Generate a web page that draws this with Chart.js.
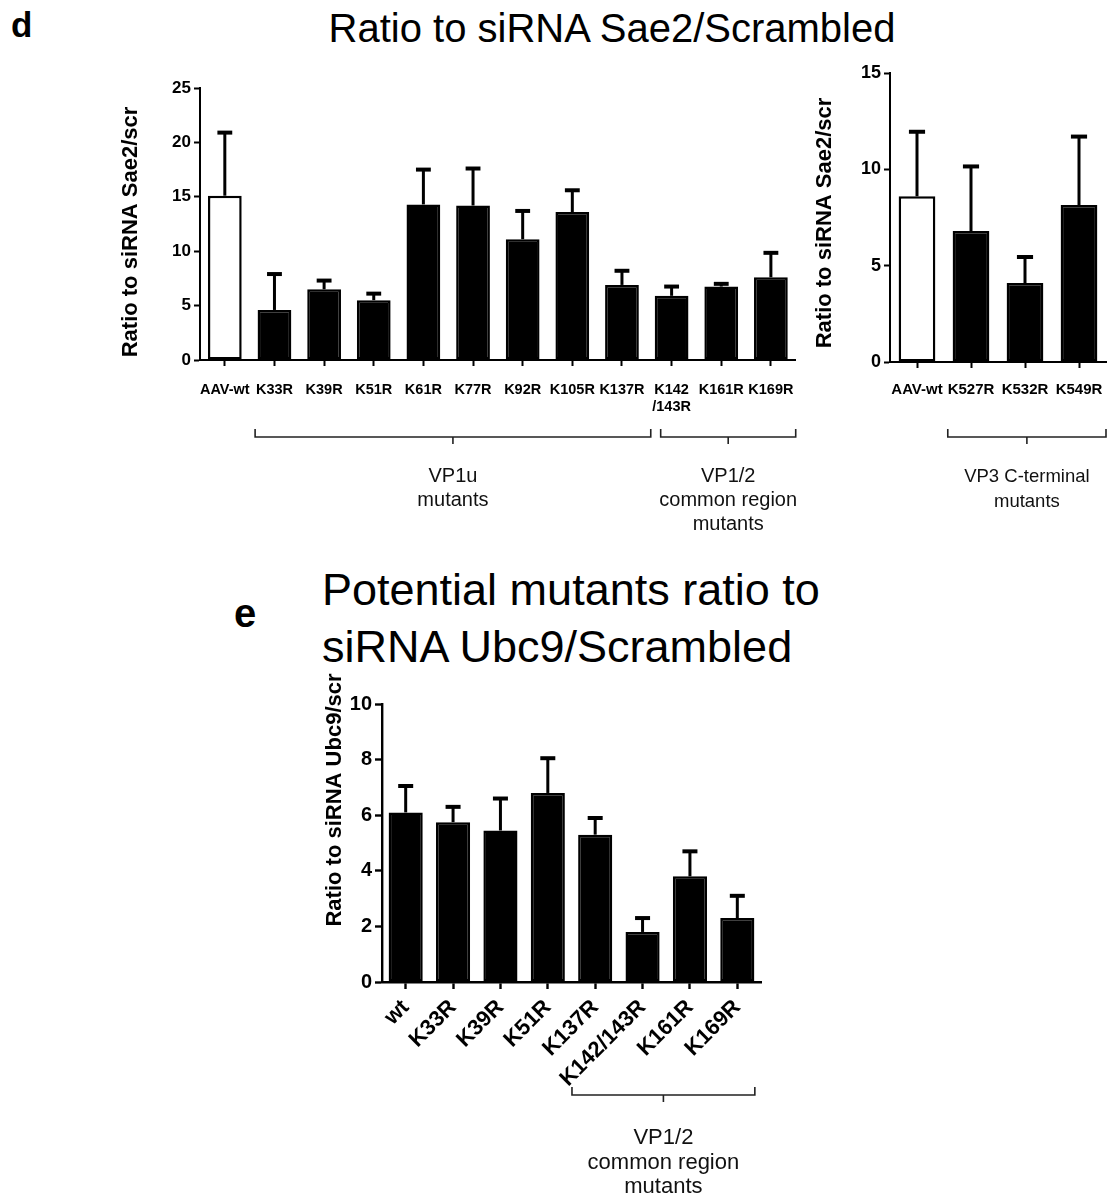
<!DOCTYPE html>
<html>
<head>
<meta charset="utf-8">
<title>Ratio to siRNA</title>
<script src="https://cdn.jsdelivr.net/npm/chart.js@4.4.1/dist/chart.umd.min.js"></script>
<style>
    body { margin: 0; background: #ffffff; }
    #page { position: relative; width: 1117px; height: 1200px; overflow: hidden; font-family: "Liberation Sans", Arial, sans-serif; color: #000; }
    .txt { position: absolute; white-space: nowrap; }
    .box { position: absolute; }
</style>
</head>
<body>
<div id="page">
    <div class="txt" style="left:11px; top:7px; font-size:35px; line-height:35px; font-weight:bold;">d</div>
    <div class="txt" style="left:612px; top:8px; font-size:40px; line-height:40px; transform:translateX(-50%);">Ratio to siRNA Sae2/Scrambled</div>
    <div class="txt" style="left:234px; top:593px; font-size:40px; line-height:40px; font-weight:bold;">e</div>
    <div class="txt" style="left:322px; top:561px; font-size:45px; line-height:57px;">Potential mutants ratio to<br>siRNA Ubc9/Scrambled</div>

    <div class="box" style="left:100px; top:60px; width:710px; height:480px;"><canvas id="chart-sae2-vp1"></canvas></div>
    <div class="box" style="left:810px; top:50px; width:307px; height:480px;"><canvas id="chart-sae2-vp3"></canvas></div>
    <div class="box" style="left:300px; top:660px; width:480px; height:540px;"><canvas id="chart-ubc9"></canvas></div>
</div>

<script>
// Panel d, left: VP1u and VP1/2 mutants
const sae2Labels = ["AAV-wt", "K33R", "K39R", "K51R", "K61R", "K77R", "K92R", "K105R", "K137R", ["K142", "/143R"], "K161R", "K169R"];
const sae2Means = [15.1, 4.6, 6.5, 5.5, 14.3, 14.2, 11.1, 13.6, 6.9, 5.9, 6.75, 7.6];
const sae2Upper = [20.9, 7.9, 7.3, 6.1, 17.5, 17.6, 13.7, 15.6, 8.2, 6.75, 7.0, 9.85];
const sae2Ticks = [0, 5, 10, 15, 20, 25];
const sae2Groups = [
    { first: 1, last: 8, lines: ["VP1u", "mutants"] },
    { first: 9, last: 11, lines: ["VP1/2", "common region", "mutants"] },
];

// Panel d, right: VP3 C-terminal mutants
const vp3Labels = ["AAV-wt", "K527R", "K532R", "K549R"];
const vp3Means = [8.6, 6.8, 4.1, 8.15];
const vp3Upper = [11.95, 10.15, 5.45, 11.7];
const vp3Ticks = [0, 5, 10, 15];
const vp3Groups = [
    { first: 1, last: 3, lines: ["VP3 C-terminal", "mutants"] },
];

// Panel e: Ubc9 knockdown
const ubc9Labels = ["wt", "K33R", "K39R", "K51R", "K137R", "K142/143R", "K161R", "K169R"];
const ubc9Means = [6.1, 5.75, 5.45, 6.8, 5.3, 1.8, 3.8, 2.3];
const ubc9Upper = [7.05, 6.3, 6.6, 8.05, 5.9, 2.3, 4.7, 3.1];
const ubc9Ticks = [0, 2, 4, 6, 8, 10];
const ubc9Groups = [
    { first: 4, last: 7, lines: ["VP1/2", "common region", "mutants"] },
];

const FONT = '"Liberation Sans", Arial, sans-serif';
Chart.defaults.font.family = FONT;
Chart.defaults.color = "#000";

// Upper error whisker with a cap (mean -> mean + SEM)
const errorBarPlugin = {
    id: "errorBars",
    afterDatasetsDraw(chart, args, opts) {
        const { ctx } = chart;
        const yScale = chart.scales.y;
        chart.data.datasets.forEach((ds, di) => {
            const meta = chart.getDatasetMeta(di);
            meta.data.forEach((bar, i) => {
                const top = yScale.getPixelForValue(ds.upper[i]);
                const capHalf = bar.width * opts.cap;
                ctx.save();
                ctx.strokeStyle = "#000";
                ctx.lineWidth = opts.width;
                ctx.beginPath();
                ctx.moveTo(bar.x, bar.y);
                ctx.lineTo(bar.x, top);
                ctx.stroke();
                ctx.lineWidth = opts.width + 1;
                ctx.beginPath();
                ctx.moveTo(bar.x - capHalf, top);
                ctx.lineTo(bar.x + capHalf, top);
                ctx.stroke();
                ctx.restore();
            });
        });
    },
};

// Bracket under a run of categories, group name underneath
const bracketPlugin = {
    id: "brackets",
    afterDraw(chart, args, opts) {
        if (!opts.groups) return;
        const { ctx, chartArea } = chart;
        const xScale = chart.scales.x;
        const step = xScale.getPixelForTick(1) - xScale.getPixelForTick(0);
        const lineY = chartArea.bottom + opts.gap;
        ctx.save();
        ctx.strokeStyle = "#222";
        ctx.lineWidth = 1.6;
        ctx.fillStyle = "#111";
        ctx.font = `${opts.fontSize}px ${FONT}`;
        ctx.textAlign = "center";
        ctx.textBaseline = "middle";
        opts.groups.forEach((g, k) => {
            const shift = opts.shifts[k];
            const x0 = xScale.getPixelForTick(g.first) + shift[0] * step;
            const x1 = xScale.getPixelForTick(g.last) + shift[1] * step;
            const mid = (x0 + x1) / 2;
            ctx.beginPath();
            ctx.moveTo(x0, lineY - 8);
            ctx.lineTo(x0, lineY);
            ctx.lineTo(x1, lineY);
            ctx.lineTo(x1, lineY - 8);
            ctx.moveTo(mid, lineY);
            ctx.lineTo(mid, lineY + 7);
            ctx.stroke();
            g.lines.forEach((line, n) => {
                ctx.fillText(line, mid, lineY + opts.textGap + n * opts.lineHeight);
            });
        });
        ctx.restore();
    },
};

// Rotated y-axis title placed freely (not centred on the axis)
const yTitlePlugin = {
    id: "yTitle",
    afterDraw(chart, args, opts) {
        const { ctx } = chart;
        ctx.save();
        ctx.translate(opts.x, opts.y);
        ctx.rotate(-Math.PI / 2);
        ctx.font = `bold ${opts.size}px ${FONT}`;
        ctx.fillStyle = "#000";
        ctx.textAlign = "center";
        ctx.textBaseline = "middle";
        ctx.fillText(opts.text, 0, 0);
        ctx.restore();
    },
};

// Build one GraphPad-style bar panel
const buildBarChart = (canvasId, cfg) => {
    const ctx = document.getElementById(canvasId).getContext("2d");
    return new Chart(ctx, {
        type: "bar",
        data: {
            labels: cfg.labels,
            datasets: [
                {
                    data: cfg.means,
                    upper: cfg.upper,
                    backgroundColor: cfg.means.map((v, i) => (cfg.openFirst && i === 0 ? "#ffffff" : "#000000")),
                    borderColor: "#000000",
                    borderWidth: 2.5,
                    borderSkipped: false,
                    barPercentage: cfg.barPct,
                    categoryPercentage: 1,
                },
            ],
        },
        options: {
            responsive: true,
            maintainAspectRatio: false,
            animation: false,
            layout: { padding: { top: cfg.padTop, right: cfg.padRight, left: 0, bottom: 0 } },
            plugins: {
                legend: { display: false },
                tooltip: { enabled: false },
                errorBars: { width: 3, cap: 0.22 },
                brackets: cfg.brackets,
                yTitle: cfg.yTitle,
            },
            scales: {
                x: {
                    offset: true,
                    grid: { offset: false, drawOnChartArea: false, tickLength: cfg.tickLen, tickWidth: cfg.axisWidth, tickColor: "#000" },
                    border: { color: "#000", width: cfg.axisWidth },
                    ticks: {
                        color: "#000",
                        autoSkip: false,
                        maxRotation: cfg.rotation,
                        minRotation: cfg.rotation,
                        padding: cfg.xPad,
                        font: { size: cfg.xFont, weight: "bold", lineHeight: 1.15 },
                    },
                    afterFit: (scale) => { scale.height = cfg.xHeight; },
                },
                y: {
                    min: cfg.ticks[0],
                    max: cfg.ticks[cfg.ticks.length - 1],
                    afterBuildTicks: (scale) => { scale.ticks = cfg.ticks.map((v) => ({ value: v })); },
                    grid: { drawOnChartArea: false, tickLength: cfg.tickLen, tickWidth: cfg.axisWidth, tickColor: "#000" },
                    border: { color: "#000", width: cfg.axisWidth },
                    ticks: { color: "#000", padding: 3, font: { size: cfg.yFont, weight: "bold" } },
                    afterFit: (scale) => { scale.width = cfg.yWidth; },
                },
            },
        },
        plugins: [errorBarPlugin, bracketPlugin, yTitlePlugin],
    });
};

buildBarChart("chart-sae2-vp1", {
    labels: sae2Labels, means: sae2Means, upper: sae2Upper, ticks: sae2Ticks,
    openFirst: true, barPct: 0.68, rotation: 0,
    padTop: 28, padRight: 13, yWidth: 100, xHeight: 180,
    xFont: 14.5, yFont: 17, xPad: 16, tickLen: 6, axisWidth: 2,
    yTitle: { text: "Ratio to siRNA Sae2/scr", x: 31, y: 172, size: 22 },
    brackets: { groups: sae2Groups, shifts: [[-0.39, 0.58], [-0.22, 0.5]], gap: 77, textGap: 39, lineHeight: 24, fontSize: 20 },
});

buildBarChart("chart-sae2-vp3", {
    labels: vp3Labels, means: vp3Means, upper: vp3Upper, ticks: vp3Ticks,
    openFirst: true, barPct: 0.68, rotation: 0,
    padTop: 23, padRight: 11, yWidth: 80, xHeight: 168,
    xFont: 15, yFont: 18, xPad: 13, tickLen: 6, axisWidth: 2,
    yTitle: { text: "Ratio to siRNA Sae2/scr", x: 15, y: 173, size: 22 },
    brackets: { groups: vp3Groups, shifts: [[-0.43, 0.5]], gap: 75, textGap: 40, lineHeight: 25, fontSize: 18.5 },
});

buildBarChart("chart-ubc9", {
    labels: ubc9Labels, means: ubc9Means, upper: ubc9Upper, ticks: ubc9Ticks,
    openFirst: false, barPct: 0.72, rotation: 45,
    padTop: 44, padRight: 19, yWidth: 82, xHeight: 218,
    xFont: 22, yFont: 20, xPad: 6, tickLen: 7, axisWidth: 2.4,
    yTitle: { text: "Ratio to siRNA Ubc9/scr", x: 35, y: 140, size: 22 },
    brackets: { groups: ubc9Groups, shifts: [[-0.49, 0.37]], gap: 113, textGap: 43, lineHeight: 24.5, fontSize: 22 },
});
</script>
</body>
</html>
